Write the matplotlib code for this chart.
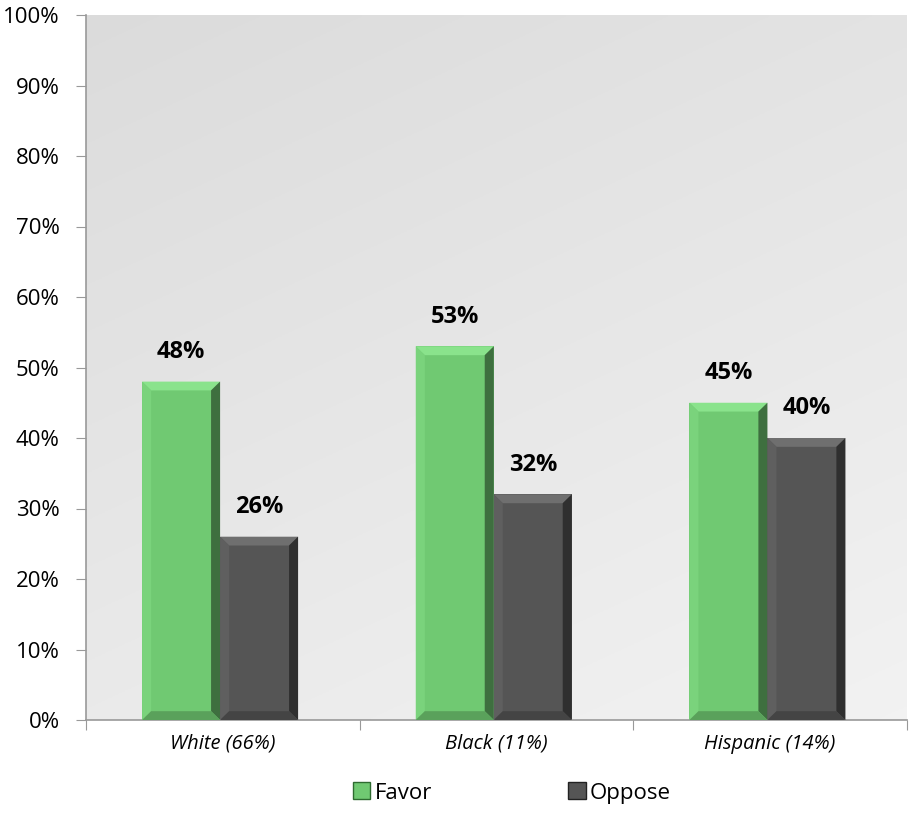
import numpy as np
import matplotlib
matplotlib.use("Agg")
from matplotlib import pyplot as plt
from matplotlib.patches import Polygon, Rectangle

plt.rcParams['font.family'] = ['Open Sans', 'DejaVu Sans']

categories = ['White (66%)', 'Black (11%)', 'Hispanic (14%)']
favor = [48, 53, 45]
oppose = [26, 32, 40]
series_names = ['Favor', 'Oppose']

green = '#70c972'
dark = '#555555'

fig = plt.figure(figsize=(9.14, 8.15), dpi=100)
ax = fig.add_axes([86 / 914, 1 - 720 / 815, 821 / 914, 705 / 815])

# gray gradient background: darker top-left, lighter bottom-right
grad = np.linspace(0, 1, 256)
gx, gy = np.meshgrid(grad, grad)
g = 0.86 + 0.09 * (0.35 * gx + 0.65 * gy)
ax.imshow(np.dstack([g, g, g]), extent=[-0.5, 2.5, 0, 100], origin='upper',
          aspect='auto', zorder=0)

x = np.arange(len(categories))
w = 0.285


def bevel_bar(xc, h, color):
    left, right = xc - w / 2, xc + w / 2
    bx, by = 0.033, 1.25
    ax.add_patch(Rectangle((left, 0), w, h, facecolor=color, edgecolor='none', zorder=2))
    c = np.array(matplotlib.colors.to_rgb(color))
    light = np.clip(c + 0.1, 0, 1)
    darker = c * 0.55
    mid = c * 0.8
    # top bevel
    ax.add_patch(Polygon([(left, h), (right, h), (right - bx, h - by), (left + bx, h - by)],
                         facecolor=light, edgecolor='none', zorder=3))
    # left bevel
    ax.add_patch(Polygon([(left, 0), (left, h), (left + bx, h - by), (left + bx, by)],
                         facecolor=np.clip(c + 0.04, 0, 1), edgecolor='none', zorder=3))
    # right bevel
    ax.add_patch(Polygon([(right, 0), (right, h), (right - bx, h - by), (right - bx, by)],
                         facecolor=darker, edgecolor='none', zorder=3))
    # bottom bevel
    ax.add_patch(Polygon([(left, 0), (right, 0), (right - bx, by), (left + bx, by)],
                         facecolor=mid, edgecolor='none', zorder=3))


for i in range(len(categories)):
    bevel_bar(x[i] - w / 2 - 0.01, favor[i], green)
    bevel_bar(x[i] + w / 2 - 0.01, oppose[i], dark)
    ax.text(x[i] - w / 2 - 0.01, favor[i] + 2.5, f'{favor[i]}%', ha='center', va='bottom',
            fontsize=17, fontweight='bold')
    ax.text(x[i] + w / 2 - 0.01, oppose[i] + 2.5, f'{oppose[i]}%', ha='center', va='bottom',
            fontsize=17, fontweight='bold')

ax.set_xlim(-0.5, 2.5)
ax.set_ylim(0, 100)
ax.set_yticks(range(0, 101, 10))
ax.set_yticklabels([f'{v}%' for v in range(0, 101, 10)], fontsize=16)
ax.set_xticks([-0.5, 0.5, 1.5, 2.5])
ax.set_xticklabels([])
ax.set_xticks(x, minor=True)
ax.set_xticklabels(categories, minor=True, fontsize=14.5, style='italic')
ax.tick_params(axis='x', which='minor', length=0, pad=10)
ax.tick_params(axis='x', which='major', length=7, color='#999999', direction='out')
ax.tick_params(axis='y', length=7, color='#999999', pad=12)
for s in ['top', 'right']:
    ax.spines[s].set_visible(False)
for s in ['left', 'bottom']:
    ax.spines[s].set_color('#999999')
    ax.spines[s].set_linewidth(1.2)

handles = [Rectangle((0, 0), 1, 1, facecolor=green, edgecolor='#2e6b30'),
           Rectangle((0, 0), 1, 1, facecolor=dark, edgecolor='#222222')]
fig.legend(handles, series_names, loc='center', bbox_to_anchor=(0.56, 1 - 793 / 815),
           ncol=2, frameon=False, fontsize=16, handlelength=0.8, handleheight=0.8,
           handletextpad=0.2, columnspacing=6.1)

fig.savefig('out.png', dpi=100)
